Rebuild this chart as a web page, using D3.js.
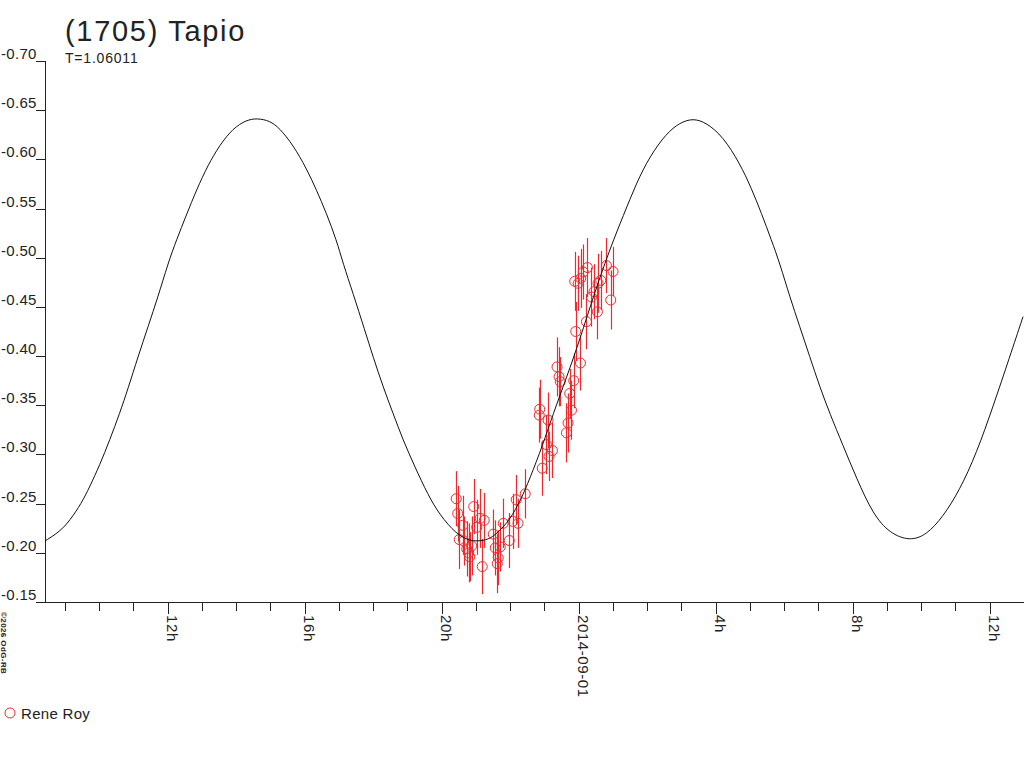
<!DOCTYPE html>
<html>
<head>
<meta charset="utf-8">
<script src="https://cdn.jsdelivr.net/npm/d3@7"></script>
<style>
  html, body { margin: 0; padding: 0; background: #fff; }
  svg { display: block; }
  text { font-family: "Liberation Sans", Arial, sans-serif; fill: #222; }
</style>
</head>
<body>
<svg id="chart" width="1024" height="768"></svg>
<script>
// ---- Data (hours counted from 2014-08-31 00:00 UT; magnitudes as plotted) ----
const titleText = "(1705) Tapio";
const periodText = "T=1.06011";
const observer = "Rene Roy";
const copyright = "\u00A92026 OdG-RB";

const yTicks = [-0.70, -0.65, -0.60, -0.55, -0.50, -0.45, -0.40, -0.35, -0.30, -0.25, -0.20, -0.15];
const yTickLabels = ["-0.70", "-0.65", "-0.60", "-0.55", "-0.50", "-0.45", "-0.40", "-0.35", "-0.30", "-0.25", "-0.20", "-0.15"];

// fitted light curve
const curveHours = [8.429, 8.847, 9.139, 9.480, 9.723, 10.015, 10.307, 10.599, 10.841, 11.133,
  11.425, 11.717, 12.009, 12.254, 12.546, 12.838, 13.177, 13.518, 13.907, 14.298,
  14.607, 14.978, 15.270, 15.658, 16.050, 16.342, 16.634, 16.926, 17.118, 17.410,
  17.752, 17.994, 18.286, 18.578, 18.870, 19.212, 19.600, 19.942, 20.429, 20.818,
  21.051, 21.343, 21.635, 21.985, 22.307, 22.569, 22.949, 23.241, 23.650, 24.029,
  24.467, 24.955, 25.293, 25.685, 26.073, 26.561, 26.949, 27.337, 27.728, 28.213,
  28.701, 29.042, 29.334, 29.626, 29.869, 30.161, 30.453, 30.745, 31.036, 31.328,
  31.717, 32.108, 32.593, 33.080, 33.664, 34.152, 34.636, 35.124, 35.612, 36.096,
  36.584, 36.972];
const curveMag = [-0.2123, -0.2215, -0.2327, -0.2503, -0.2672, -0.2893, -0.3147, -0.3420, -0.3670, -0.3994,
  -0.4299, -0.4604, -0.4943, -0.5180, -0.5435, -0.5689, -0.5943, -0.6146, -0.6316, -0.6400,
  -0.6418, -0.6393, -0.6316, -0.6146, -0.5909, -0.5689, -0.5452, -0.5180, -0.4943, -0.4638,
  -0.4265, -0.3994, -0.3689, -0.3418, -0.3147, -0.2876, -0.2588, -0.2385, -0.2188, -0.2123,
  -0.2120, -0.2130, -0.2202, -0.2334, -0.2537, -0.2751, -0.3096, -0.3401, -0.3788, -0.4164,
  -0.4652, -0.5130, -0.5420, -0.5760, -0.6030, -0.6265, -0.6373, -0.6418, -0.6373, -0.6231,
  -0.5960, -0.5706, -0.5452, -0.5180, -0.4943, -0.4604, -0.4299, -0.3994, -0.3689, -0.3418,
  -0.3090, -0.2760, -0.2390, -0.2198, -0.2120, -0.2181, -0.2367, -0.2639, -0.3012, -0.3486,
  -0.3994, -0.4401];

// observations (Rene Roy)
const obsHours = [20.423, 20.467, 20.511, 20.613, 20.642, 20.730, 20.788, 20.818, 20.876, 20.934,
  21.022, 21.124, 21.241, 21.182, 21.504, 21.562, 21.620, 21.650, 21.708, 21.796,
  21.971, 22.073, 22.228, 22.175, 22.438, 22.861, 22.847, 22.934, 23.057, 23.104,
  23.133, 23.232, 23.366, 23.425, 23.460, 23.641, 23.688, 23.737, 23.787, 23.854,
  23.912, 24.050, 23.883, 23.985, 24.058, 24.131, 24.254, 24.225, 24.371, 24.447,
  24.546, 24.564, 24.642, 24.809, 24.934, 25.001];
const obsMag = [-0.255, -0.240, -0.2135, -0.228, -0.212, -0.204, -0.200, -0.196, -0.207, -0.247,
  -0.226, -0.235, -0.233, -0.186, -0.219, -0.205, -0.189, -0.195, -0.206, -0.230,
  -0.2125, -0.232, -0.230, -0.254, -0.260, -0.346, -0.340, -0.286, -0.310, -0.335,
  -0.298, -0.304, -0.389, -0.379, -0.374, -0.322, -0.332, -0.362, -0.345, -0.375,
  -0.425, -0.393, -0.476, -0.474, -0.479, -0.4855, -0.490, -0.435, -0.460, -0.4655,
  -0.445, -0.474, -0.477, -0.492, -0.457, -0.486];
const obsErr = [0.028, 0.028, 0.030, 0.030, 0.025, 0.028, 0.030, 0.025, 0.030, 0.028,
  0.028, 0.030, 0.028, 0.028, 0.025, 0.028, 0.030, 0.028, 0.025, 0.025,
  0.028, 0.028, 0.025, 0.025, 0.025, 0.030, 0.028, 0.028, 0.030, 0.028,
  0.025, 0.028, 0.030, 0.030, 0.025, 0.030, 0.030, 0.025, 0.030, 0.028,
  0.030, 0.028, 0.030, 0.028, 0.030, 0.028, 0.030, 0.028, 0.030, 0.028,
  0.028, 0.030, 0.030, 0.028, 0.030, 0.025];

// ---- Chart ----
const base = Date.UTC(2014, 7, 31, 0, 0);
const toDate = h => new Date(base + h * 3600e3);
const red = "#ee2a2f";
const ink = "#222";

const svg = d3.select("#chart");
const plotLeft = 45, plotRight = 1024, plotTop = 61, plotBottom = 602;

const x = d3.scaleUtc()
  .domain([toDate(8 + 25 / 60), toDate(37)])
  .range([plotLeft, plotRight]);
const y = d3.scaleLinear()
  .domain([-0.15, -0.70])
  .range([plotBottom, plotTop]);

svg.append("defs").append("clipPath").attr("id", "plot")
  .append("rect").attr("x", plotLeft).attr("y", 0)
  .attr("width", plotRight - plotLeft).attr("height", plotBottom);

// title
svg.append("text").attr("x", 65).attr("y", 41)
  .style("font-size", "29px").style("letter-spacing", "1.7px").text(titleText);
svg.append("text").attr("x", 65).attr("y", 63)
  .style("font-size", "14px").style("letter-spacing", "0.8px").text(periodText);

// y axis
const yAxis = svg.append("g").attr("shape-rendering", "crispEdges");
yAxis.append("line").attr("x1", plotLeft + 0.5).attr("x2", plotLeft + 0.5)
  .attr("y1", y(-0.70)).attr("y2", plotBottom).attr("stroke", ink);
yAxis.selectAll("line.tick").data(yTicks).join("line").attr("class", "tick")
  .attr("x1", 36).attr("x2", plotLeft)
  .attr("y1", d => Math.round(y(d)) + 0.5).attr("y2", d => Math.round(y(d)) + 0.5)
  .attr("stroke", ink);
yAxis.selectAll("text").data(yTicks).join("text")
  .attr("x", 1).attr("y", d => y(d) - 2)
  .style("font-size", "15px").style("letter-spacing", "0.3px")
  .text((d, i) => yTickLabels[i]);

// x axis
const xAxis = svg.append("g").attr("shape-rendering", "crispEdges");
xAxis.append("line").attr("x1", 36).attr("x2", plotRight)
  .attr("y1", plotBottom + 0.5).attr("y2", plotBottom + 0.5).attr("stroke", ink);
const hourTicks = x.ticks(d3.utcHour.every(1));
const isMajor = d => d.getUTCHours() % 4 === 0;
xAxis.selectAll("line.tick").data(hourTicks).join("line").attr("class", "tick")
  .attr("x1", d => Math.round(x(d)) + 0.5).attr("x2", d => Math.round(x(d)) + 0.5)
  .attr("y1", plotBottom).attr("y2", d => plotBottom + (isMajor(d) ? 12 : 9))
  .attr("stroke", ink);
const fmt = d => d.getUTCHours() === 0 ? d3.utcFormat("%Y-%m-%d")(d) : d.getUTCHours() + "h";
xAxis.selectAll("text").data(hourTicks.filter(isMajor)).join("text")
  .attr("transform", d => `translate(${Math.round(x(d)) - 1},${plotBottom + 13}) rotate(90)`)
  .style("font-size", "15px").style("letter-spacing", "0.6px")
  .text(fmt);

// copyright
svg.append("text").attr("transform", "translate(1,612) rotate(90)")
  .style("font-size", "8px").style("font-weight", "bold").style("letter-spacing", "0.4px")
  .text(copyright);

// observations
const obs = obsHours.map((h, i) => ({ t: toDate(h), m: obsMag[i], e: obsErr[i] }));
const pts = svg.append("g").attr("clip-path", "url(#plot)");
pts.selectAll("line").data(obs).join("line")
  .attr("x1", d => Math.round(x(d.t)) + 0.5).attr("x2", d => Math.round(x(d.t)) + 0.5)
  .attr("y1", d => y(d.m - d.e)).attr("y2", d => y(d.m + d.e))
  .attr("stroke", red).attr("stroke-width", 1.2);
pts.selectAll("circle").data(obs).join("circle")
  .attr("cx", d => x(d.t)).attr("cy", d => y(d.m)).attr("r", 5)
  .attr("fill", "none").attr("stroke", red).attr("stroke-width", 1);

// fitted curve
const curve = curveHours.map((h, i) => ({ t: toDate(h), m: curveMag[i] }));
svg.append("path").datum(curve)
  .attr("clip-path", "url(#plot)")
  .attr("fill", "none").attr("stroke", "#111").attr("stroke-width", 1)
  .attr("d", d3.line().x(d => x(d.t)).y(d => y(d.m)).curve(d3.curveBasis));

// legend
svg.append("circle").attr("cx", 10).attr("cy", 713).attr("r", 5)
  .attr("fill", "none").attr("stroke", red);
svg.append("text").attr("x", 21).attr("y", 718.5)
  .style("font-size", "15px").style("letter-spacing", "0.3px").text(observer);
</script>
</body>
</html>
